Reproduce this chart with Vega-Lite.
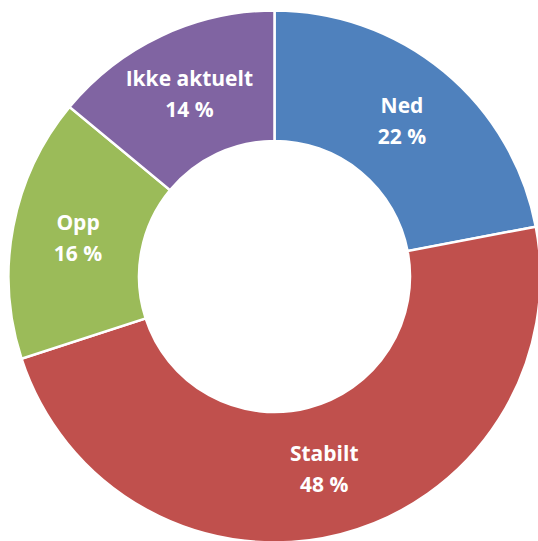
{
  "$schema": "https://vega.github.io/schema/vega-lite/v6.json",
  "width": 549,
  "height": 553,
  "autosize": "none",
  "padding": 0,
  "background": "white",
  "data": {
    "values": [
      {"kategori": "Ned", "andel": 22, "rekkefolge": 1, "etikett": "Ned\n22 %"},
      {"kategori": "Stabilt", "andel": 48, "rekkefolge": 2, "etikett": "Stabilt\n48 %"},
      {"kategori": "Opp", "andel": 16, "rekkefolge": 3, "etikett": "Opp\n16 %"},
      {"kategori": "Ikke aktuelt", "andel": 14, "rekkefolge": 4, "etikett": "Ikke aktuelt\n14 %"}
    ]
  },
  "encoding": {
    "theta": {"field": "andel", "type": "quantitative", "stack": true},
    "order": {"field": "rekkefolge", "type": "quantitative", "sort": "ascending"}
  },
  "layer": [
    {
      "mark": {"type": "arc", "outerRadius": 266, "innerRadius": 135.5, "stroke": "white", "strokeWidth": 2.5},
      "encoding": {
        "color": {
          "field": "kategori",
          "type": "nominal",
          "scale": {
            "domain": ["Ned", "Stabilt", "Opp", "Ikke aktuelt"],
            "range": ["#4F81BD", "#C0504D", "#9BBB59", "#8064A2"]
          },
          "legend": null
        }
      }
    },
    {
      "mark": {
        "type": "text",
        "radius": 200,
        "dy": -15.5,
        "font": "Open Sans",
        "fontWeight": "bold",
        "fontSize": 21,
        "lineBreak": "\n",
        "lineHeight": 31,
        "align": "center",
        "baseline": "middle",
        "color": "white"
      },
      "encoding": {
        "text": {"field": "etikett", "type": "nominal"}
      }
    }
  ]
}
